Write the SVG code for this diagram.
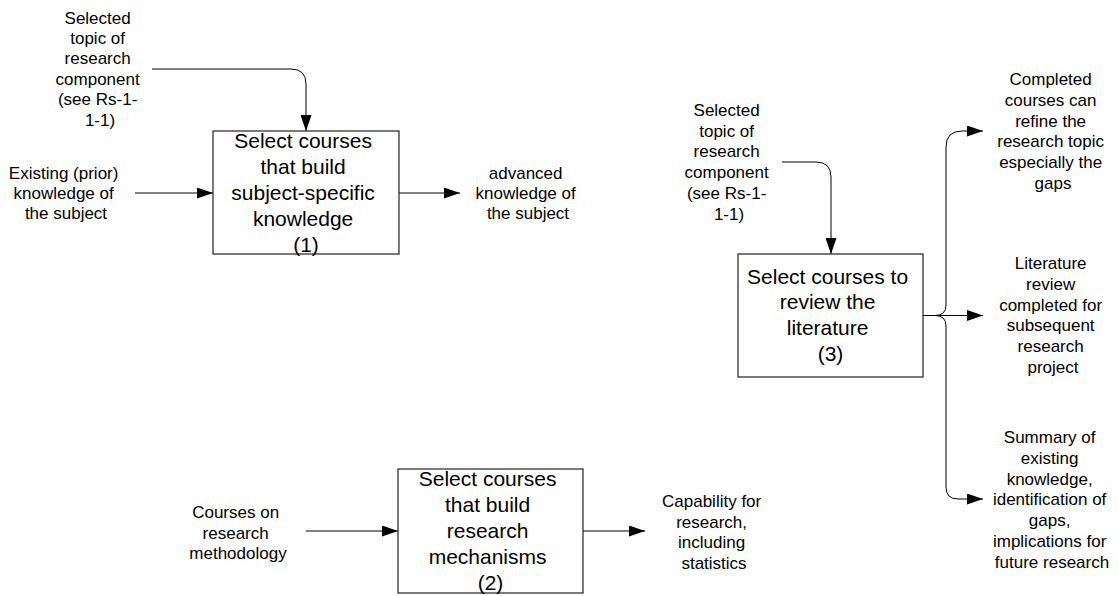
<svg xmlns="http://www.w3.org/2000/svg" width="1119" height="596" viewBox="0 0 1119 596">
  <style>
    .box { fill: #ffffff; stroke: #222222; stroke-width: 1.2; }
    .conn { fill: none; stroke: #000000; stroke-width: 1; }
    .lbl { font-family: "Liberation Sans", Arial, sans-serif; font-size: 17px; fill: #000000; text-anchor: middle; }
    .ttl { font-family: "Liberation Sans", Arial, sans-serif; font-size: 21px; fill: #000000; text-anchor: middle; }
  </style>
  <defs>
    <marker id="arrow" markerUnits="userSpaceOnUse" markerWidth="16" markerHeight="11" refX="16" refY="5.5" orient="auto">
      <path d="M0,0 L16,5.5 L0,11 z" fill="#000000"/>
    </marker>
  </defs>
  <rect width="1119" height="596" fill="#ffffff"/>

  <!-- connectors -->
  <g id="connectors" class="conn" marker-end="url(#arrow)">
    <path d="M152,69 H291 Q306,69 306,84 V131"/>
    <path d="M135,193 H213"/>
    <path d="M399,193 H460"/>
    <path d="M782,162 H816 Q831,162 831,177 V254"/>
    <path d="M923,315.5 H983"/>
    <path d="M935,315.5 Q946,315.5 946,305 V147 Q946,131 962,131 H983"/>
    <path d="M935,315.5 Q946,315.5 946,326 V487 Q946,499 958,499 H983"/>
    <path d="M306,531 H398"/>
    <path d="M583,531 H645"/>
  </g>

  <!-- activity 1 -->
  <g id="node-1">
    <rect class="box" x="213" y="131" width="186" height="123"/>
    <text class="ttl" x="306" y="147.5">
      <tspan x="306">Select courses</tspan>
      <tspan x="306" dy="26">that build</tspan>
      <tspan x="306" dy="26">subject-specific</tspan>
      <tspan x="306" dy="26">knowledge</tspan>
      <tspan x="306" dy="26">(1)</tspan>
    </text>
  </g>

  <!-- activity 2 -->
  <g id="node-2">
    <rect class="box" x="398" y="469" width="185" height="124"/>
    <text class="ttl" x="490.5" y="485.5">
      <tspan x="490.5">Select courses</tspan>
      <tspan x="490.5" dy="26.2">that build</tspan>
      <tspan x="490.5" dy="26.2">research</tspan>
      <tspan x="490.5" dy="26.2">mechanisms</tspan>
      <tspan x="490.5" dy="26.2">(2)</tspan>
    </text>
  </g>

  <!-- activity 3 -->
  <g id="node-3">
    <rect class="box" x="738" y="254" width="185" height="123"/>
    <text class="ttl" x="830.5" y="283.5">
      <tspan x="830.5">Select courses to</tspan>
      <tspan x="830.5" dy="25.7">review the</tspan>
      <tspan x="830.5" dy="25.7">literature</tspan>
      <tspan x="830.5" dy="25.7">(3)</tspan>
    </text>
  </g>

  <!-- inputs and outputs -->
  <g id="in-topic-1">
    <text class="lbl" x="100" y="23.5">
      <tspan x="100">Selected</tspan>
      <tspan x="100" dy="20.4">topic of</tspan>
      <tspan x="100" dy="20.4">research</tspan>
      <tspan x="100" dy="20.4">component</tspan>
      <tspan x="100" dy="20.4">(see Rs-1-</tspan>
      <tspan x="100" dy="20.4">1-1)</tspan>
    </text>
  </g>
  <g id="in-prior">
    <text class="lbl" x="66" y="179">
      <tspan x="66">Existing (prior)</tspan>
      <tspan x="66" dy="20">knowledge of</tspan>
      <tspan x="66" dy="20">the subject</tspan>
    </text>
  </g>
  <g id="out-advanced">
    <text class="lbl" x="528" y="179">
      <tspan x="528">advanced</tspan>
      <tspan x="528" dy="20">knowledge of</tspan>
      <tspan x="528" dy="20">the subject</tspan>
    </text>
  </g>
  <g id="in-topic-3">
    <text class="lbl" x="729" y="116">
      <tspan x="729">Selected</tspan>
      <tspan x="729" dy="20.7">topic of</tspan>
      <tspan x="729" dy="20.7">research</tspan>
      <tspan x="729" dy="20.7">component</tspan>
      <tspan x="729" dy="20.7">(see Rs-1-</tspan>
      <tspan x="729" dy="20.7">1-1)</tspan>
    </text>
  </g>
  <g id="out-refine">
    <text class="lbl" x="1053" y="85">
      <tspan x="1053">Completed</tspan>
      <tspan x="1053" dy="20.8">courses can</tspan>
      <tspan x="1053" dy="20.8">refine the</tspan>
      <tspan x="1053" dy="20.8">research topic</tspan>
      <tspan x="1053" dy="20.8">especially the</tspan>
      <tspan x="1053" dy="20.8">gaps</tspan>
    </text>
  </g>
  <g id="out-review">
    <text class="lbl" x="1053" y="269">
      <tspan x="1053">Literature</tspan>
      <tspan x="1053" dy="20.8">review</tspan>
      <tspan x="1053" dy="20.8">completed for</tspan>
      <tspan x="1053" dy="20.8">subsequent</tspan>
      <tspan x="1053" dy="20.8">research</tspan>
      <tspan x="1053" dy="20.8">project</tspan>
    </text>
  </g>
  <g id="out-summary">
    <text class="lbl" x="1052" y="443">
      <tspan x="1052">Summary of</tspan>
      <tspan x="1052" dy="20.8">existing</tspan>
      <tspan x="1052" dy="20.8">knowledge,</tspan>
      <tspan x="1052" dy="20.8">identification of</tspan>
      <tspan x="1052" dy="20.8">gaps,</tspan>
      <tspan x="1052" dy="20.8">implications for</tspan>
      <tspan x="1052" dy="20.8">future research</tspan>
    </text>
  </g>
  <g id="in-methodology">
    <text class="lbl" x="238" y="518">
      <tspan x="238">Courses on</tspan>
      <tspan x="238" dy="20.5">research</tspan>
      <tspan x="238" dy="20.5">methodology</tspan>
    </text>
  </g>
  <g id="out-capability">
    <text class="lbl" x="714" y="507">
      <tspan x="714">Capability for</tspan>
      <tspan x="714" dy="20.5">research,</tspan>
      <tspan x="714" dy="20.5">including</tspan>
      <tspan x="714" dy="20.5">statistics</tspan>
    </text>
  </g>
</svg>
